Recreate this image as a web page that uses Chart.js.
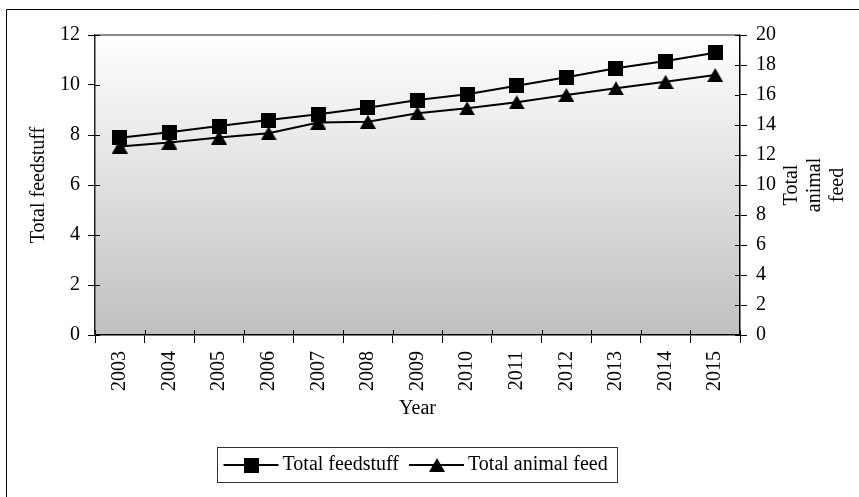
<!DOCTYPE html>
<html>
<head>
<meta charset="utf-8">
<script src="https://cdn.jsdelivr.net/npm/chart.js@4.4.1/dist/chart.umd.min.js"></script>
<style>
  html, body { margin: 0; padding: 0; background: #fff; }
  #wrap { position: relative; width: 859px; height: 497px; }
  canvas { display: block; }
</style>
</head>
<body>
<div id="wrap"><canvas id="chart" width="859" height="497"></canvas></div>
<script>
// Yearly series
const years = ['2003', '2004', '2005', '2006', '2007', '2008', '2009', '2010', '2011', '2012', '2013', '2014', '2015'];
const totalFeedstuff = [7.89, 8.11, 8.36, 8.6, 8.83, 9.09, 9.4, 9.63, 9.97, 10.31, 10.67, 10.96, 11.29];
const totalAnimalFeed = [12.56, 12.83, 13.16, 13.45, 14.16, 14.22, 14.78, 15.11, 15.52, 16.0, 16.45, 16.88, 17.33];

// Axis ranges
const leftAxisRange = [0, 12];
const rightAxisRange = [0, 20];
const axisStep = 2;

const FONT = "'Liberation Serif', 'Times New Roman', serif";
const FONT_SIZE = 20;

// Marker images (centred on their bounding box)
function squareMarker(size) {
  const c = document.createElement('canvas');
  c.width = size; c.height = size;
  const g = c.getContext('2d');
  g.fillStyle = '#000';
  g.fillRect(0, 0, size, size);
  return c;
}
function triangleMarker(w, h) {
  const c = document.createElement('canvas');
  c.width = w; c.height = h;
  const g = c.getContext('2d');
  g.fillStyle = '#000';
  g.beginPath();
  g.moveTo(w / 2, 0);
  g.lineTo(w, h);
  g.lineTo(0, h);
  g.closePath();
  g.fill();
  return c;
}
const squareImg = squareMarker(15);
const triangleImg = triangleMarker(16, 14);

// Plot background, outer frame
const backdrop = {
  id: 'backdrop',
  beforeDraw(chart) {
    const { ctx, chartArea: a } = chart;
    ctx.save();
    const grad = ctx.createLinearGradient(0, a.top, 0, a.bottom);
    grad.addColorStop(0, '#ffffff');
    grad.addColorStop(1, '#c0c0c0');
    ctx.fillStyle = grad;
    ctx.fillRect(a.left, a.top, a.right - a.left, a.bottom - a.top);
    // outer frame
    ctx.strokeStyle = '#000';
    ctx.lineWidth = 1;
    ctx.beginPath();
    ctx.moveTo(6.5, chart.height + 5);
    ctx.lineTo(6.5, 9.5);
    ctx.lineTo(chart.width + 5, 9.5);
    ctx.stroke();
    ctx.restore();
  }
};

// Inner tick marks, top edge, right axis title and legend
const decorations = {
  id: 'decorations',
  afterDraw(chart) {
    const { ctx, chartArea: a, scales } = chart;
    ctx.save();
    // top edge of the plot area
    ctx.strokeStyle = '#8a8a8a';
    ctx.lineWidth = 2;
    ctx.beginPath();
    ctx.moveTo(a.left, a.top);
    ctx.lineTo(a.right, a.top);
    ctx.stroke();

    // short inner ticks
    ctx.strokeStyle = '#000';
    ctx.lineWidth = 1;
    ctx.beginPath();
    scales.y.ticks.forEach(t => {
      const y = Math.round(scales.y.getPixelForValue(t.value)) + 0.5;
      ctx.moveTo(a.left, y); ctx.lineTo(a.left + 5, y);
    });
    scales.y2.ticks.forEach(t => {
      const y = Math.round(scales.y2.getPixelForValue(t.value)) + 0.5;
      ctx.moveTo(a.right - 5, y); ctx.lineTo(a.right, y);
    });
    const step = scales.x.getPixelForValue(1) - scales.x.getPixelForValue(0);
    for (let i = 0; i <= years.length; i++) {
      const x = Math.round(scales.x.getPixelForValue(i) - step / 2) + 0.5;
      ctx.moveTo(x, a.bottom - 5); ctx.lineTo(x, a.bottom);
    }
    ctx.stroke();

    // right axis title, three lines
    ctx.fillStyle = '#000';
    ctx.font = FONT_SIZE + 'px ' + FONT;
    ctx.textAlign = 'center';
    ctx.textBaseline = 'middle';
    const midY = (a.top + a.bottom) / 2;
    const rightTitle = ['Total', 'animal', 'feed'];
    const titleX0 = a.right + 52;
    rightTitle.forEach((line, i) => {
      ctx.save();
      ctx.translate(titleX0 + i * 23, midY);
      ctx.rotate(-Math.PI / 2);
      ctx.fillText(line, 0, 0);
      ctx.restore();
    });

    // legend
    const items = chart.data.datasets.map(ds => ({ text: ds.label, img: ds.pointStyle }));
    const sampleW = 55, pad = 6, gapText = 4, gapItem = 10, padR = 10;
    ctx.textAlign = 'left';
    let total = pad;
    items.forEach((it, i) => {
      it.w = ctx.measureText(it.text).width;
      total += sampleW + gapText + it.w + (i < items.length - 1 ? gapItem : padR);
    });
    const boxH = 35;
    const boxLeft = Math.round((a.left + a.right) / 2 - total / 2) + 0.5;
    const boxTop = 447.5;
    ctx.strokeStyle = '#333';
    ctx.lineWidth = 1;
    ctx.strokeRect(boxLeft, boxTop, Math.round(total), boxH);
    const cy = boxTop + boxH / 2;
    let x = boxLeft + pad;
    items.forEach((it, i) => {
      ctx.strokeStyle = '#000';
      ctx.lineWidth = 2;
      ctx.beginPath();
      ctx.moveTo(x, cy); ctx.lineTo(x + sampleW, cy);
      ctx.stroke();
      ctx.drawImage(it.img, Math.round(x + sampleW / 2 - it.img.width / 2), Math.round(cy - it.img.height / 2));
      x += sampleW + gapText;
      ctx.fillStyle = '#000';
      ctx.fillText(it.text, x, cy);
      x += it.w + gapItem;
    });
    ctx.restore();
  }
};

Chart.defaults.font.family = FONT;
Chart.defaults.font.size = FONT_SIZE;
Chart.defaults.color = '#000';

new Chart(document.getElementById('chart'), {
  type: 'line',
  data: {
    labels: years,
    datasets: [
      {
        label: 'Total feedstuff',
        data: totalFeedstuff,
        yAxisID: 'y',
        borderColor: '#000',
        borderWidth: 2,
        pointStyle: squareImg,
        tension: 0,
        fill: false
      },
      {
        label: 'Total animal feed',
        data: totalAnimalFeed,
        yAxisID: 'y2',
        borderColor: '#000',
        borderWidth: 2,
        pointStyle: triangleImg,
        tension: 0,
        fill: false
      }
    ]
  },
  options: {
    responsive: false,
    animation: false,
    devicePixelRatio: 1,
    layout: { padding: { top: 35, bottom: 62, left: 0, right: 0 } },
    plugins: {
      legend: { display: false },
      tooltip: { enabled: false }
    },
    scales: {
      x: {
        type: 'category',
        offset: true,
        grid: { offset: true, drawOnChartArea: false, drawTicks: true, tickLength: 8, color: '#000', lineWidth: 1 },
        border: { color: '#000', width: 1.5 },
        ticks: { minRotation: 90, maxRotation: 90, autoSkip: false, padding: 8, color: '#000' },
        title: { display: true, text: 'Year', color: '#000', padding: { top: 0, bottom: 14 } },
        afterFit(s) { s.height = 100; }
      },
      y: {
        position: 'left',
        min: leftAxisRange[0],
        max: leftAxisRange[1],
        grid: { drawOnChartArea: false, drawTicks: true, tickLength: 7, color: '#000', lineWidth: 1 },
        border: { color: '#222', width: 1.5 },
        ticks: { stepSize: axisStep, padding: 8, color: '#000' },
        title: { display: true, text: 'Total feedstuff', color: '#000', padding: { top: 27, bottom: 0 } },
        afterFit(s) { s.width = 95; }
      },
      y2: {
        position: 'right',
        min: rightAxisRange[0],
        max: rightAxisRange[1],
        grid: { drawOnChartArea: false, drawTicks: true, tickLength: 7, color: '#000', lineWidth: 1 },
        border: { color: '#000', width: 1.5 },
        ticks: { stepSize: axisStep, padding: 9, color: '#000' },
        afterFit(s) { s.width = 119; }
      }
    }
  },
  plugins: [backdrop, decorations]
});
</script>
</body>
</html>
